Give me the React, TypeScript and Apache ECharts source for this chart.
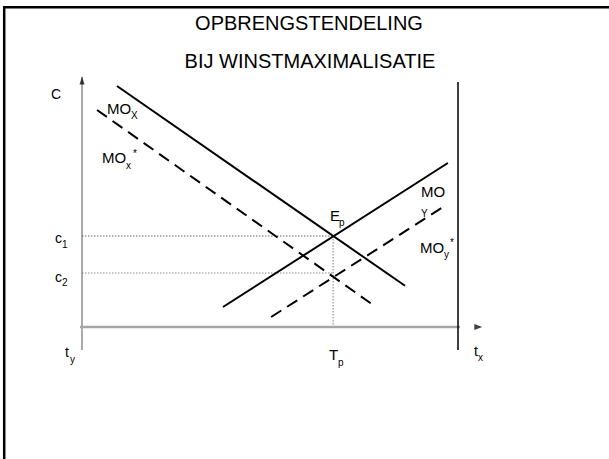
import React, { useEffect, useRef } from "react";
import * as echarts from "echarts";

// Economic coordinates: x = time units (t_y at 0, t_x at 100), y = revenue c
const Y_AXIS = [[0, -9.2], [0, 100]];
const X_AXIS = [[-5.05, 0], [106.4, 0]];
const TX_LINE = [[100, -9.2], [100, 98]];

const MOX = [[9.3, 96.4], [85.9, 16.5]];
const MOY = [[37.5, 8], [97.3, 65.6]];
const MOX_STAR = [[4.0, 86.8], [78.2, 8]];
const MOY_STAR = [[50.3, 4], [96.0, 48]];

const TP = 66.8;
const C_LEVELS = [36.4, 21.6];

const FONT = '"Liberation Sans", Arial, sans-serif';

function seg(data: number[][], color: string, width: number, type: any, z = 2) {
  return {
    type: "line",
    data,
    symbol: "none",
    clip: false,
    silent: true,
    z,
    lineStyle: { color, width, type, cap: "butt" },
  };
}

function txt(text: string, x: number, y: number, size: number, align = "left") {
  return {
    type: "text",
    silent: true,
    style: {
      text,
      x,
      y,
      fill: "#000",
      fontSize: size,
      fontFamily: FONT,
      align,
      verticalAlign: "middle",
    },
  };
}

export default function App() {
  const ref = useRef<HTMLDivElement>(null);
  useEffect(() => {
    document.body.style.margin = "0";
    const chart = echarts.init(ref.current!, null, { renderer: "svg" });
    const option: any = {
      animation: false,
      backgroundColor: "#fff",
      grid: { left: 82, right: 151, top: 77, bottom: 109 },
      xAxis: { type: "value", min: 0, max: 100, show: false },
      yAxis: { type: "value", min: -9.2, max: 100, show: false },
      series: [
        seg(Y_AXIS, "#555", 1, "solid"),
        seg(X_AXIS, "#a6a6a6", 2.5, "solid"),
        seg(TX_LINE, "#000", 1.5, "solid"),
        seg([[0, C_LEVELS[0]], [TP, C_LEVELS[0]]], "#666", 1, [1.5, 1.5], 1),
        seg([[0, C_LEVELS[1]], [TP, C_LEVELS[1]]], "#888", 1, [1.5, 1.5], 1),
        seg([[TP, C_LEVELS[0]], [TP, 0]], "#aaa", 1.5, [1.5, 1.5], 1),
        seg(MOX, "#000", 2, "solid", 3),
        seg(MOY, "#000", 2, "solid", 3),
        seg(MOX_STAR, "#000", 2, [12, 7], 3),
        seg(MOY_STAR, "#000", 2, [12, 7], 3),
        {
          type: "scatter",
          silent: true,
          clip: false,
          z: 4,
          data: [[0, 98.6]],
          symbol: "triangle",
          symbolSize: [5, 8],
          itemStyle: { color: "#111" },
        },
        {
          type: "scatter",
          silent: true,
          clip: false,
          z: 4,
          data: [[105.4, 0]],
          symbol: "triangle",
          symbolRotate: -90,
          symbolSize: [6, 8],
          itemStyle: { color: "#111" },
        },
      ],
      graphic: [
        {
          type: "rect",
          silent: true,
          shape: { x: 4.2, y: 7.2, width: 800, height: 600 },
          style: { fill: "none", stroke: "#000", lineWidth: 2.5 },
        },
        txt("OPBRENGSTENDELING", 309, 23, 20, "center"),
        txt("BIJ WINSTMAXIMALISATIE", 310, 61, 20, "center"),
        txt("C", 51, 94, 14),
        txt("MO", 107, 108.5, 15),
        txt("X", 131, 115, 10),
        txt("MO", 102, 157.5, 15),
        txt("x", 126, 165, 10),
        txt("*", 133, 153, 10),
        txt("E", 330, 215, 15),
        txt("p", 339, 222, 10),
        txt("MO", 421, 191.5, 15),
        txt("Y", 421, 213.5, 10),
        txt("MO", 420, 247, 15),
        txt("y", 444, 254, 10),
        txt("*", 450, 242, 10),
        txt("c", 55, 238, 14),
        txt("1", 62, 244, 10),
        txt("c", 55, 277, 14),
        txt("2", 62, 282, 10),
        txt("t", 65, 352, 14),
        txt("y", 70, 359, 10),
        txt("T", 329, 354, 15),
        txt("p", 338, 362, 10),
        txt("t", 474, 351, 14),
        txt("x", 478, 357, 10),
      ],
    };
    chart.setOption(option);
    return () => chart.dispose();
  }, []);
  return <div ref={ref} style={{ width: 609, height: 459, background: "#fff" }} />;
}
